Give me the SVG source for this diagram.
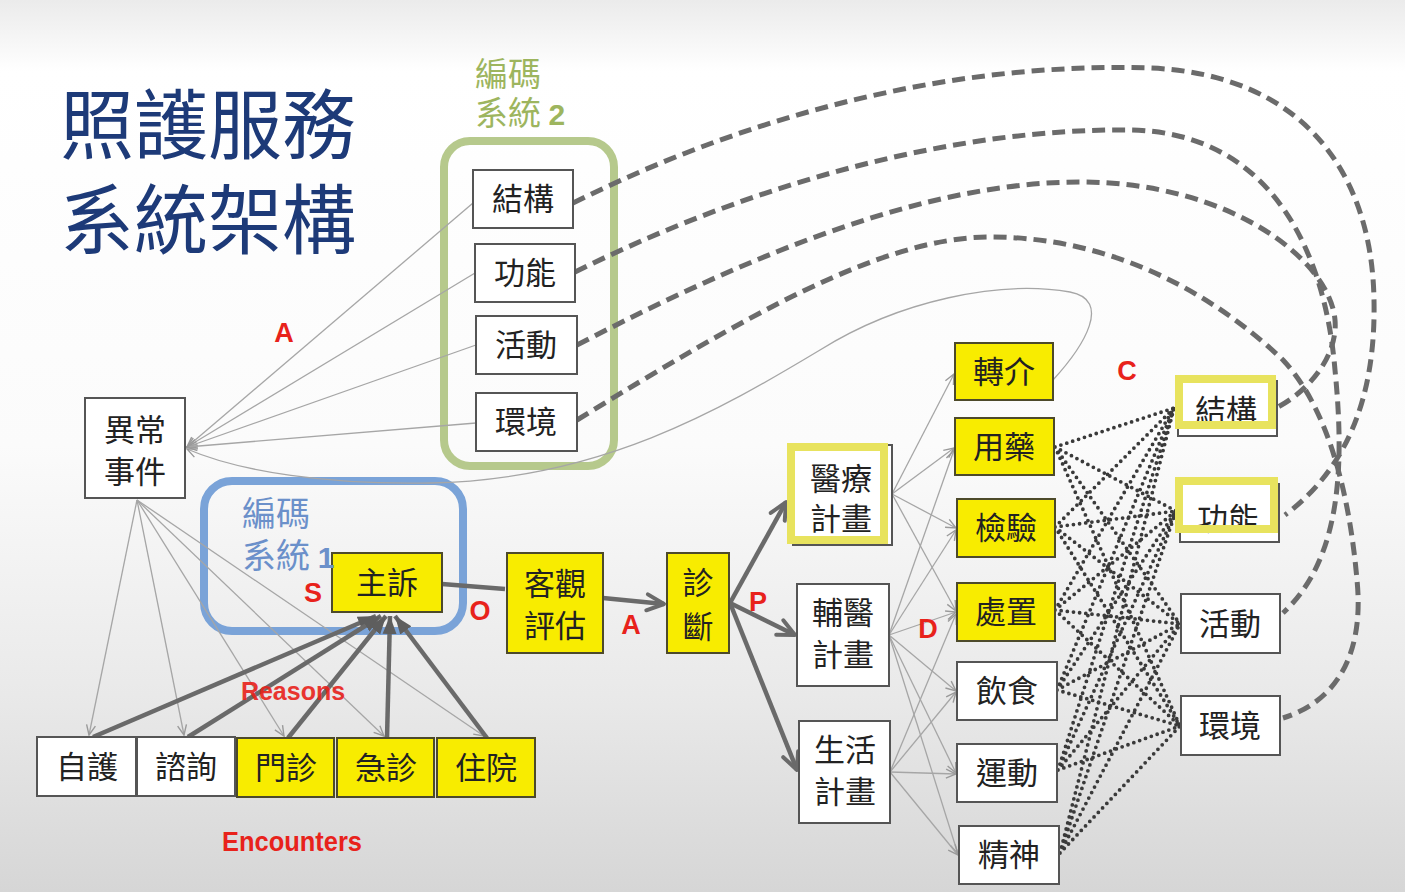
<svg xmlns="http://www.w3.org/2000/svg" width="1405" height="892" viewBox="0 0 1405 892">
<defs>
<linearGradient id="bg" x1="0" y1="0" x2="0" y2="1">
<stop offset="0" stop-color="#ebebeb"/><stop offset="0.045" stop-color="#f6f6f6"/><stop offset="0.08" stop-color="#ffffff"/><stop offset="0.5" stop-color="#fbfbfb"/><stop offset="0.78" stop-color="#e9e9e9"/><stop offset="1" stop-color="#d6d6d6"/>
</linearGradient>
<marker id="ah" viewBox="0 0 12 12" refX="11" refY="6" markerWidth="12" markerHeight="12" markerUnits="userSpaceOnUse" orient="auto"><path d="M1,1.5 L11,6 L1,10.5" fill="none" stroke="#9a9a9a" stroke-width="1.4"/></marker>
<marker id="ch" viewBox="0 0 22 22" refX="20" refY="11" markerWidth="22" markerHeight="22" markerUnits="userSpaceOnUse" orient="auto"><path d="M3,3 L20,11 L3,19" fill="none" stroke="#6a6a6a" stroke-width="4" stroke-linejoin="round" stroke-linecap="round"/></marker>
<marker id="fa" viewBox="0 0 20 20" refX="18" refY="10" markerWidth="20" markerHeight="20" markerUnits="userSpaceOnUse" orient="auto"><path d="M0,3 L18,10 L0,17 Z" fill="#5e5e5e"/></marker>
<style>
.box{fill:#fff;stroke:#555;stroke-width:2}
.yb{fill:#f8ec00;stroke:#4d4a2a;stroke-width:2}
.yf{fill:none;stroke:#e8e35e;stroke-width:8}
.t{font-family:"Noto Sans CJK TC","Noto Sans CJK SC",sans-serif;font-size:31px;fill:#222;text-anchor:middle}
.red{font-family:"Liberation Sans",Arial,sans-serif;font-weight:bold;fill:#e8221b;text-anchor:middle}
.thin{stroke:#a6a6a6;stroke-width:1.3;fill:none}
.thick{stroke:#6a6a6a;stroke-width:4.5;fill:none}
.dash{stroke:#6b6b6b;stroke-width:5;stroke-dasharray:13 7;fill:none}
.dot{stroke:#3a3a3a;stroke-width:3.8;stroke-dasharray:0 6.2;stroke-linecap:round;fill:none}
.title{font-family:"Noto Sans CJK TC","Noto Sans CJK SC",sans-serif;font-size:76px;fill:#1d3a78}
.g2{font-family:"Noto Sans CJK TC",sans-serif;font-size:33px;fill:#9db55e}
.g1{font-family:"Noto Sans CJK TC",sans-serif;font-size:34px;fill:#6b90ca}
</style>
</defs>
<rect width="1405" height="892" fill="url(#bg)"/>

<g id="title">
<text class="title" x="60" y="153" textLength="296" lengthAdjust="spacingAndGlyphs">照護服務</text>
<text class="title" x="60" y="248" textLength="296" lengthAdjust="spacingAndGlyphs">系統架構</text>
</g>

<g id="frames">
<rect x="444" y="141" width="170" height="325" rx="26" fill="none" stroke="#b6c98c" stroke-width="8"/>
<text class="g2" x="475" y="86">編碼</text>
<text class="g2" x="475" y="125">系統 <tspan font-family="Liberation Sans,sans-serif" font-weight="bold" font-size="30">2</tspan></text>
<rect x="204" y="481" width="259" height="150" rx="28" fill="none" stroke="#7aa3d8" stroke-width="8"/>
</g>

<g id="connectors">
<line class="thin" x1="473" y1="203" x2="187" y2="447" marker-end="url(#ah)"/>
<line class="thin" x1="475" y1="273" x2="187" y2="447" marker-end="url(#ah)"/>
<line class="thin" x1="476" y1="345" x2="187" y2="447" marker-end="url(#ah)"/>
<line class="thin" x1="476" y1="423" x2="187" y2="447" marker-end="url(#ah)"/>
<path class="thin" d="M1053,380 C1085,345 1112,300 1070,292 C1000,280 900,300 820,350 C720,410 600,480 430,483 C330,485 240,472 187,449" marker-end="url(#ah)"/>
<line class="thin" x1="137" y1="500" x2="89" y2="735" marker-end="url(#ah)"/>
<line class="thin" x1="137" y1="500" x2="184" y2="735" marker-end="url(#ah)"/>
<line class="thin" x1="137" y1="500" x2="284" y2="736" marker-end="url(#ah)"/>
<line class="thin" x1="137" y1="500" x2="384" y2="736" marker-end="url(#ah)"/>
<line class="thin" x1="137" y1="500" x2="484" y2="736" marker-end="url(#ah)"/>
<line class="thick" x1="93" y1="737" x2="376" y2="616" marker-end="url(#fa)"/>
<line class="thick" x1="188" y1="737" x2="381" y2="616" marker-end="url(#fa)"/>
<line class="thick" x1="288" y1="738" x2="386" y2="616" marker-end="url(#fa)"/>
<line class="thick" x1="387" y1="738" x2="390" y2="616" marker-end="url(#fa)"/>
<line class="thick" x1="487" y1="738" x2="395" y2="616" marker-end="url(#fa)"/>
<line class="thick" x1="442" y1="584" x2="505" y2="589"/>
<line class="thick" x1="603" y1="598" x2="664" y2="604" marker-end="url(#ch)"/>
<line class="thick" x1="730" y1="603" x2="786" y2="502" marker-end="url(#ch)"/>
<line class="thick" x1="730" y1="603" x2="795" y2="635" marker-end="url(#ch)"/>
<line class="thick" x1="730" y1="603" x2="797" y2="770" marker-end="url(#ch)"/>
<line class="thin" x1="892" y1="494" x2="954" y2="374" marker-end="url(#ah)"/>
<line class="thin" x1="892" y1="494" x2="954" y2="448" marker-end="url(#ah)"/>
<line class="thin" x1="892" y1="494" x2="956" y2="528" marker-end="url(#ah)"/>
<line class="thin" x1="892" y1="494" x2="956" y2="611" marker-end="url(#ah)"/>
<line class="thin" x1="889" y1="635" x2="954" y2="450" marker-end="url(#ah)"/>
<line class="thin" x1="889" y1="635" x2="956" y2="530" marker-end="url(#ah)"/>
<line class="thin" x1="889" y1="635" x2="956" y2="612" marker-end="url(#ah)"/>
<line class="thin" x1="889" y1="635" x2="956" y2="691" marker-end="url(#ah)"/>
<line class="thin" x1="889" y1="635" x2="956" y2="773" marker-end="url(#ah)"/>
<line class="thin" x1="889" y1="635" x2="958" y2="854" marker-end="url(#ah)"/>
<line class="thin" x1="890" y1="772" x2="956" y2="614" marker-end="url(#ah)"/>
<line class="thin" x1="890" y1="772" x2="956" y2="692" marker-end="url(#ah)"/>
<line class="thin" x1="890" y1="772" x2="956" y2="774" marker-end="url(#ah)"/>
<line class="thin" x1="890" y1="772" x2="958" y2="855" marker-end="url(#ah)"/>
<g class="dot">
<path d="M1055,447 L1174,408 M1055,447 L1176,511 M1055,447 L1180,624 M1055,447 L1180,726"/>
<path d="M1055,527 L1174,408 M1055,527 L1176,511 M1055,527 L1180,624 M1055,527 L1180,726"/>
<path d="M1055,610 L1174,408 M1055,610 L1176,511 M1055,610 L1180,624 M1055,610 L1180,726"/>
<path d="M1057,690 L1174,408 M1057,690 L1176,511 M1057,690 L1180,624 M1057,690 L1180,726"/>
<path d="M1058,770 L1174,408 M1058,770 L1176,511 M1058,770 L1180,624 M1058,770 L1180,726"/>
<path d="M1060,853 L1174,408 M1060,853 L1176,511 M1060,853 L1180,624 M1060,853 L1180,726"/>
</g>
<path class="dash" d="M573,203 C760,110 960,62 1150,68 C1300,74 1372,170 1374,300 C1376,400 1345,470 1285,515"/>
<path class="dash" d="M575,272 C760,180 960,128 1130,130 C1270,132 1325,250 1335,370 C1345,470 1340,560 1283,613"/>
<path class="dash" d="M577,345 C760,250 930,182 1080,182 C1230,182 1330,260 1335,320 C1338,355 1310,390 1278,407"/>
<path class="dash" d="M577,420 C740,320 880,237 990,237 C1120,237 1220,300 1283,360 C1330,410 1350,500 1357,580 C1364,650 1340,700 1283,718"/>
</g>

<g id="n-jiegou2"><rect class="box" x="473" y="170" width="100" height="58"/><text class="t" x="523" y="210">結構</text></g>
<g id="n-gongneng2"><rect class="box" x="475" y="244" width="100" height="58"/><text class="t" x="525" y="284">功能</text></g>
<g id="n-huodong2"><rect class="box" x="476" y="316" width="101" height="58"/><text class="t" x="526" y="356">活動</text></g>
<g id="n-huanjing2"><rect class="box" x="476" y="393" width="101" height="58"/><text class="t" x="526" y="433">環境</text></g>

<g id="n-yichang"><rect class="box" x="85" y="398" width="100" height="100"/><text class="t" x="135" y="441">異常</text><text class="t" x="135" y="483">事件</text></g>
<g id="n-zhusu"><rect class="yb" x="332" y="553" width="110" height="59"/><text class="t" x="387" y="594">主訴</text></g>
<g id="n-keguan"><rect class="yb" x="507" y="553" width="96" height="100"/><text class="t" x="555" y="595">客觀</text><text class="t" x="555" y="637">評估</text></g>
<g id="n-zhenduan"><rect class="yb" x="667" y="553" width="62" height="100"/><text class="t" x="698" y="594">診</text><text class="t" x="698" y="638">斷</text></g>

<g id="n-zihu"><rect class="box" x="37" y="737" width="99" height="59"/><text class="t" x="87" y="778">自護</text></g>
<g id="n-zixun"><rect class="box" x="137" y="737" width="98" height="59"/><text class="t" x="186" y="778">諮詢</text></g>
<g id="n-menzhen"><rect class="yb" x="237" y="738" width="97" height="59"/><text class="t" x="286" y="779">門診</text></g>
<g id="n-jizhen"><rect class="yb" x="337" y="738" width="97" height="59"/><text class="t" x="386" y="779">急診</text></g>
<g id="n-zhuyuan"><rect class="yb" x="437" y="738" width="98" height="59"/><text class="t" x="486" y="779">住院</text></g>

<g id="n-yiliao"><rect class="box" x="793" y="445" width="99" height="100"/><rect class="yf" x="791" y="447" width="93" height="93"/><text class="t" x="841" y="490">醫療</text><text class="t" x="841" y="530">計畫</text></g>
<g id="n-fuyi"><rect class="box" x="797" y="584" width="92" height="102"/><text class="t" x="843" y="624">輔醫</text><text class="t" x="843" y="666">計畫</text></g>
<g id="n-shenghuo"><rect class="box" x="799" y="721" width="91" height="102"/><text class="t" x="845" y="761">生活</text><text class="t" x="845" y="803">計畫</text></g>

<g id="n-zhuanjie"><rect class="yb" x="955" y="343" width="98" height="57"/><text class="t" x="1004" y="383">轉介</text></g>
<g id="n-yongyao"><rect class="yb" x="955" y="418" width="99" height="57"/><text class="t" x="1004" y="458">用藥</text></g>
<g id="n-jianyan"><rect class="yb" x="957" y="499" width="98" height="58"/><text class="t" x="1006" y="539">檢驗</text></g>
<g id="n-chuzhi"><rect class="yb" x="957" y="583" width="98" height="58"/><text class="t" x="1006" y="623">處置</text></g>
<g id="n-yinshi"><rect class="box" x="957" y="662" width="100" height="58"/><text class="t" x="1007" y="702">飲食</text></g>
<g id="n-yundong"><rect class="box" x="957" y="744" width="100" height="58"/><text class="t" x="1007" y="784">運動</text></g>
<g id="n-jingshen"><rect class="box" x="959" y="826" width="100" height="58"/><text class="t" x="1009" y="866">精神</text></g>

<g id="n-jiegou"><rect class="box" x="1178" y="381" width="99" height="55"/><text class="t" x="1226" y="422">結構</text><rect class="yf" x="1179" y="379" width="93" height="46"/></g>
<g id="n-gongneng"><rect class="box" x="1180" y="484" width="99" height="58"/><text class="t" x="1228" y="530">功能</text><rect class="yf" x="1179" y="481" width="95" height="48"/></g>
<g id="n-huodong"><rect class="box" x="1181" y="594" width="99" height="59"/><text class="t" x="1230" y="635">活動</text></g>
<g id="n-huanjing"><rect class="box" x="1181" y="696" width="99" height="59"/><text class="t" x="1230" y="737">環境</text></g>

<g id="labels">
<text class="g1" x="242" y="526">編碼</text>
<text class="g1" x="242" y="568">系統 <tspan font-family="Liberation Sans,sans-serif" font-weight="bold" font-size="30">1</tspan></text>
<text class="red" x="284" y="342" font-size="27">A</text>
<text class="red" x="313" y="602" font-size="27">S</text>
<text class="red" x="480" y="620" font-size="27">O</text>
<text class="red" x="631" y="634" font-size="27">A</text>
<text class="red" x="758" y="611" font-size="27">P</text>
<text class="red" x="928" y="638" font-size="27">D</text>
<text class="red" x="1127" y="380" font-size="27" font-weight="normal">C</text>
<text class="red" x="293" y="700" font-size="25" opacity="0.9">Reasons</text>
<text class="red" x="292" y="851" font-size="27" textLength="140" lengthAdjust="spacingAndGlyphs">Encounters</text>
</g>
</svg>
